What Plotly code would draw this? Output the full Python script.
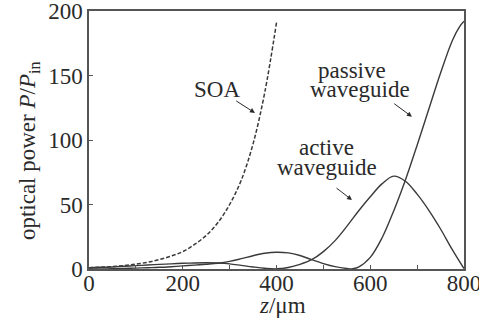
import plotly.graph_objects as go

# ---- data ----
soa_z = [0, 25, 50, 75, 100, 125, 150, 175, 200, 225, 250, 275, 300, 325, 350, 375, 400]
soa_p = [1.0, 1.4, 1.9, 2.7, 3.8, 5.2, 7.3, 10, 13.5, 19, 26, 36, 50, 69, 97, 137, 191]

act_z = [0, 25, 50, 75, 100, 125, 150, 175, 200, 225, 250, 275, 300, 325, 350, 375, 400, 425,
         450, 475, 500, 525, 550, 575, 600, 625, 650, 675, 700, 725, 750, 775, 800]
act_p = [1.0, 1.3, 1.6, 2.1, 2.6, 3.1, 3.6, 4.0, 4.4, 4.7, 4.8, 4.6, 4.0, 2.8, 1.6, 0.6, 0.15, 1.2,
         3.6, 7.2, 13.5, 22, 33, 45, 56, 66, 72, 68, 58, 45.5, 31, 15, 0.3]

pas_z = [0, 25, 50, 75, 100, 125, 150, 175, 200, 225, 250, 275, 300, 325, 350, 375, 400, 425,
         450, 475, 500, 525, 550, 560, 575, 600, 625, 650, 675, 700, 725, 750, 775, 790, 800]
pas_p = [0, 0.05, 0.2, 0.45, 0.7, 1.0, 1.3, 1.8, 2.4, 3.0, 3.7, 4.5, 5.9, 8.0, 10.3, 12.2, 13, 12.5,
         10.5, 7.2, 4.2, 1.8, 0.4, 0.1, 1.5, 9, 24, 45, 69, 96, 124, 152, 177, 187.5, 192]

x_ticks = [0, 200, 400, 600, 800]
y_ticks = [0, 50, 100, 150, 200]

FONT = "Times New Roman, Liberation Serif, serif"
INK = "#2a2a2a"
LINE = "#3a3a3a"

fig = go.Figure()
fig.add_trace(go.Scatter(x=soa_z, y=soa_p, mode="lines",
                         line=dict(color=LINE, width=1.5, dash="4px,2px", shape="spline", smoothing=1.0)))
fig.add_trace(go.Scatter(x=act_z, y=act_p, mode="lines",
                         line=dict(color=LINE, width=1.4, shape="spline", smoothing=1.0)))
fig.add_trace(go.Scatter(x=pas_z, y=pas_p, mode="lines",
                         line=dict(color=LINE, width=1.4, shape="spline", smoothing=1.0)))

axis_common = dict(showline=True, linecolor="#555", linewidth=1.5, mirror=True,
                   ticks="inside", ticklen=4, tickcolor="#555", tickwidth=1,
                   showgrid=False, zeroline=False, automargin=False,
                   tickfont=dict(family=FONT, size=23, color=INK))

fig.update_xaxes(range=[0, 800], tickvals=x_ticks, ticktext=[str(v) for v in x_ticks],
                 ticklabeloverflow="allow", ticklabelstandoff=-7,
                 minor=dict(dtick=100, ticks="inside", ticklen=4, tickcolor="#555", tickwidth=1),
                 **axis_common)
fig.update_yaxes(range=[0, 200], tickvals=y_ticks, ticktext=[str(v) for v in y_ticks],
                 ticklabeloverflow="allow", **axis_common)

ann_font = dict(family=FONT, size=23, color=INK)
annotations = [
    dict(text="optical power <i>P</i>/<i>P</i><sub>in</sub>", xref="paper", yref="paper",
         x=-0.16, y=0.457, xanchor="center", yanchor="middle",
         textangle=-90, showarrow=False, font=ann_font),
    dict(text="<i>z</i>/μm", xref="paper", yref="paper", x=0.517, y=-0.14,
         xanchor="center", yanchor="middle", showarrow=False, font=ann_font),
    dict(text="SOA", x=273, y=139, showarrow=False, font=ann_font),
    dict(text="passive", x=561, y=154, showarrow=False, font=ann_font),
    dict(text="waveguide", x=578, y=139, showarrow=False, font=ann_font),
    dict(text="active", x=507, y=94, showarrow=False, font=ann_font),
    dict(text="waveguide", x=507, y=79, showarrow=False, font=ann_font),
]
arrows = [((311, 131), (354, 121)), ((648, 129), (689, 118)), ((525, 63.6), (561, 53.5))]
for (tx, ty), (hx, hy) in arrows:
    annotations.append(dict(x=hx, y=hy, ax=tx, ay=ty, xref="x", yref="y", axref="x", ayref="y",
                            text="", showarrow=True, arrowhead=2, arrowsize=1, arrowwidth=1,
                            arrowcolor=INK, standoff=0))

fig.update_layout(width=479, height=320, margin=dict(l=89, r=15, t=11, b=51),
                  paper_bgcolor="white", plot_bgcolor="white", showlegend=False,
                  annotations=annotations)

fig.write_html("out.html")
